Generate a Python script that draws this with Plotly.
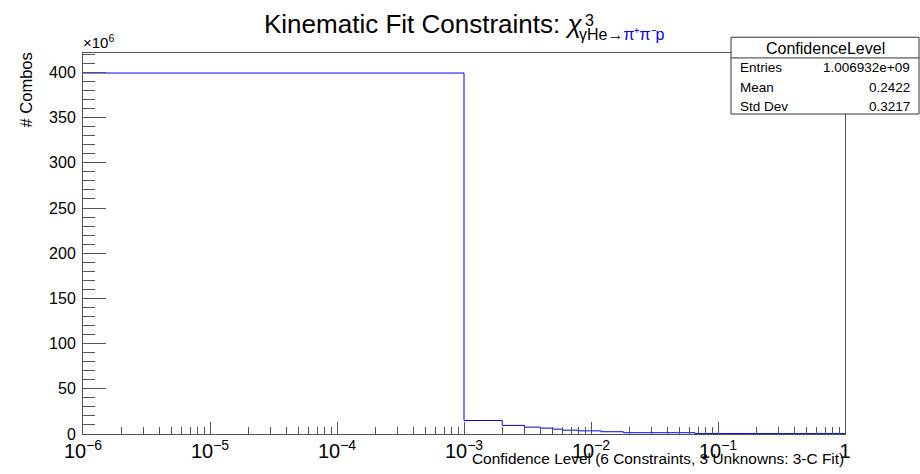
import plotly.graph_objects as go

# ---- data ----
# bin edges of the confidence-level histogram (log x axis, clipped at 1e-6)
bin_edges = [1e-6, 0.001, 0.002, 0.003, 0.004, 0.005, 0.006, 0.008, 0.012, 0.018, 0.066, 1.0]
# entries per 0.001-wide bin, in units of 10^6
counts_millions = [399.3, 14.9, 9.5, 7.6, 6.5, 5.4, 4.2, 3.5, 2.5, 1.4, 0.5]

y_tick_vals = [0, 50, 100, 150, 200, 250, 300, 350, 400]
y_tick_text = [str(v) for v in y_tick_vals]

stats_title = "ConfidenceLevel"
stats_labels = ["Entries", "Mean", "Std Dev"]
stats_values = ["1.006932e+09", "0.2422", "0.3217"]

# ---- layout geometry (pixels) ----
W, H = 920, 474
L, R, T, B = 83, 845, 53, 440
FONT = "Liberation Sans, Arial, Helvetica, sans-serif"


def px(x):
    return (x - L) / (R - L)


def py(y):
    return (B - y) / (B - T)


fig = go.Figure()
fig.add_trace(go.Scatter(
    x=bin_edges,
    y=counts_millions + [counts_millions[-1]],
    mode="lines",
    line=dict(shape="hv", color="#0000ff", width=1),
    hoverinfo="skip",
    showlegend=False,
))

axis_col = "#555555"
fig.update_xaxes(
    type="log", range=[-6, 0], dtick=1, exponentformat="power",
    showgrid=False, zeroline=False,
    showline=True, mirror=True, linecolor=axis_col, linewidth=1,
    ticks="inside", ticklen=12, tickcolor=axis_col, tickwidth=1,
    minor=dict(ticks="inside", ticklen=7, tickcolor=axis_col, dtick="D1", showgrid=False),
    tickfont=dict(family=FONT, size=16, color="black"),
)
fig.update_yaxes(
    range=[0, (B - T) / ((B - 72.7) / 400)],
    tickvals=y_tick_vals, ticktext=y_tick_text,
    showgrid=False, zeroline=False,
    showline=True, mirror=True, linecolor=axis_col, linewidth=1,
    ticks="inside", ticklen=23, tickcolor=axis_col, tickwidth=1,
    minor=dict(ticks="inside", ticklen=12, tickcolor=axis_col, dtick=10, showgrid=False),
    tickfont=dict(family=FONT, size=16, color="black"),
    ticklabelstandoff=3,
)

ann = []
# title
ann.append(dict(x=px(262), y=py(24), xref="paper", yref="paper", xanchor="left", yanchor="middle",
                text="Kinematic Fit Constraints: <i>χ</i>", showarrow=False,
                font=dict(family=FONT, size=26, color="black")))
ann.append(dict(x=px(583), y=py(20), xref="paper", yref="paper", xanchor="left", yanchor="middle",
                text="3", showarrow=False, font=dict(family=FONT, size=16, color="black")))
ann.append(dict(x=px(577), y=py(34), xref="paper", yref="paper", xanchor="left", yanchor="middle",
                text="γHe→<span style='color:#0000ff'>π⁺π⁻p</span>", showarrow=False,
                font=dict(family=FONT, size=16, color="black")))
# axis titles
ann.append(dict(x=px(26), y=py(90), xref="paper", yref="paper", xanchor="center", yanchor="middle",
                text="# Combos", textangle=-90, showarrow=False,
                font=dict(family=FONT, size=16.5, color="black")))
ann.append(dict(x=px(846), y=py(465), xref="paper", yref="paper", xanchor="right", yanchor="middle",
                text="Confidence Level (6 Constraints, 3 Unknowns: 3-C Fit)", showarrow=False,
                font=dict(family=FONT, size=15.4, color="black")))
ann.append(dict(x=px(81), y=py(53), xref="paper", yref="paper", xanchor="left", yanchor="bottom",
                text="×10<sup>6</sup>", showarrow=False,
                font=dict(family=FONT, size=15, color="black")))

# stats box
bx0, by0, bx1, by1 = 731, 37, 919, 115
shapes = [
    dict(type="rect", xref="paper", yref="paper", x0=px(bx0), x1=px(bx1), y0=py(by1), y1=py(by0),
         line=dict(color="#333333", width=1), fillcolor="white", layer="above"),
    dict(type="line", xref="paper", yref="paper", x0=px(bx0), x1=px(bx1), y0=py(58), y1=py(58),
         line=dict(color="#333333", width=1), layer="above"),
]
ann.append(dict(x=px((bx0 + bx1) / 2), y=py(48), xref="paper", yref="paper", xanchor="center",
                yanchor="middle", text=stats_title, showarrow=False,
                font=dict(family=FONT, size=16, color="black")))
row_y = [68, 88, 107]
for lab, val, yy in zip(stats_labels, stats_values, row_y):
    ann.append(dict(x=px(738), y=py(yy), xref="paper", yref="paper", xanchor="left", yanchor="middle",
                    text=lab, showarrow=False, font=dict(family=FONT, size=13.5, color="black")))
    ann.append(dict(x=px(912), y=py(yy), xref="paper", yref="paper", xanchor="right", yanchor="middle",
                    text=val, showarrow=False, font=dict(family=FONT, size=13.5, color="black")))

fig.update_layout(
    width=W, height=H,
    margin=dict(l=L, r=W - R, t=T, b=H - B, pad=0),
    paper_bgcolor="white", plot_bgcolor="white",
    annotations=ann, shapes=shapes,
    font=dict(family=FONT),
)

fig.write_html("out.html")
